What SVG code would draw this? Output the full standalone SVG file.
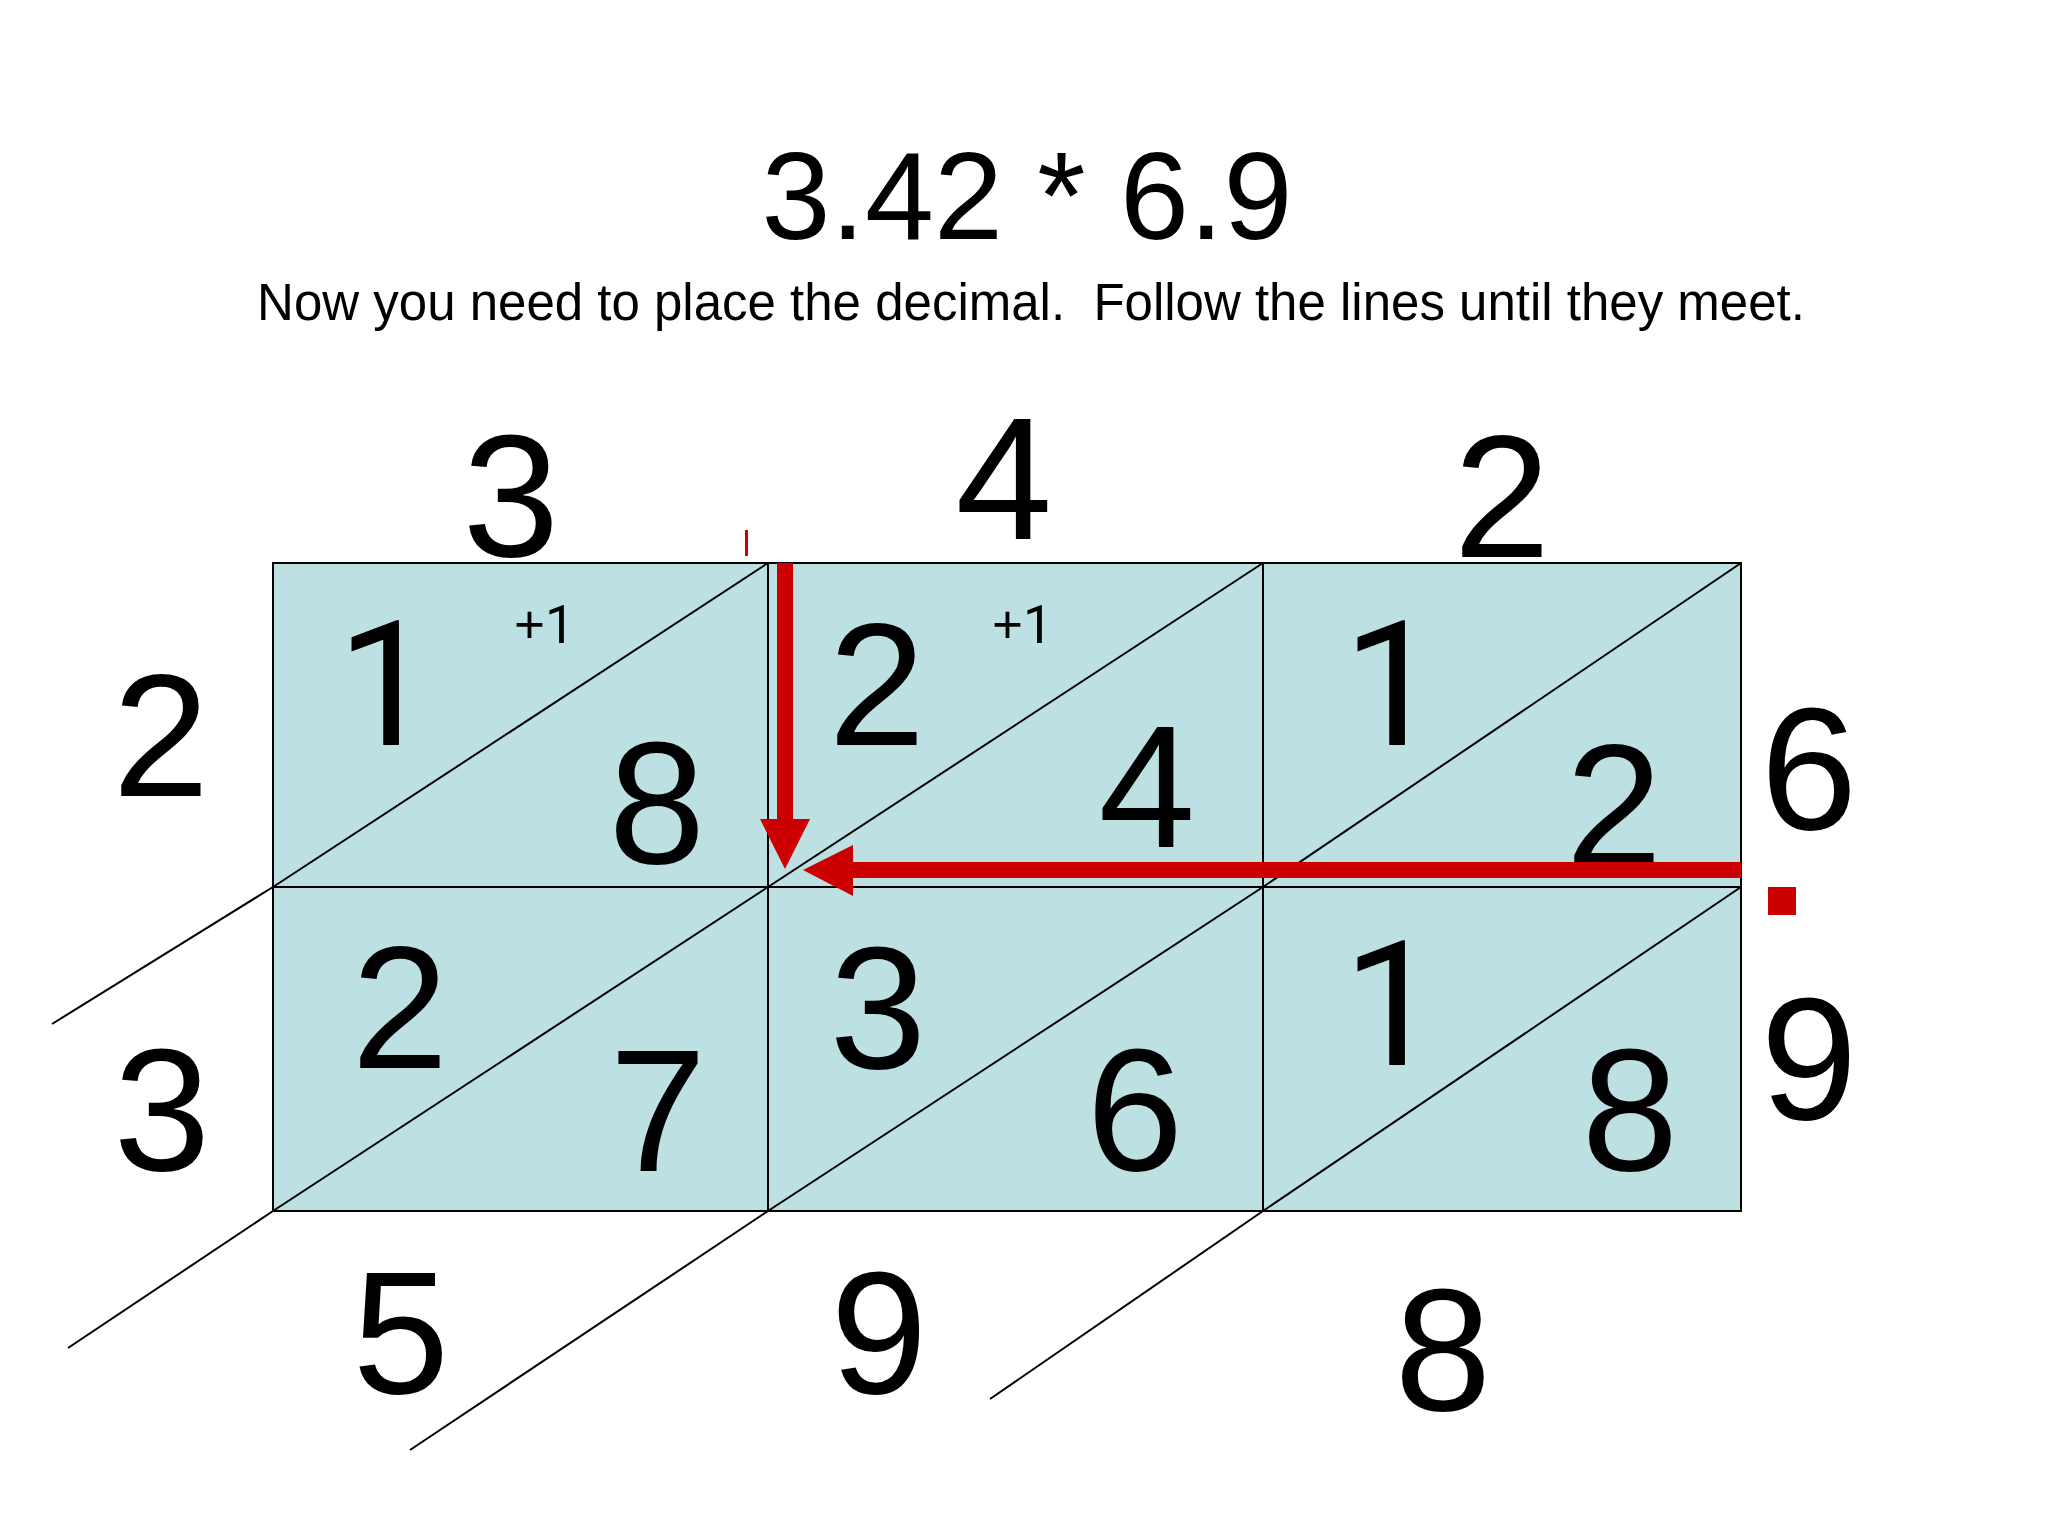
<svg xmlns="http://www.w3.org/2000/svg" width="2048" height="1536" viewBox="0 0 2048 1536">
<style>
.t{font-family:"Liberation Sans",Arial,sans-serif;fill:#000}
.one{font-family:Roboto,"Liberation Sans",Arial,sans-serif}
.big{font-size:174px;text-anchor:middle}
.sm{font-size:53px}
.cell{fill:#BDE0E3;stroke:#000;stroke-width:2}
.ln{stroke:#000;stroke-width:2;fill:none}
.red{fill:#CC0000}
</style>
<rect width="2048" height="1536" fill="#fff"/>
<g id="title">
<text class="t" x="1027" y="239" font-size="124" text-anchor="middle">3.42 * 6.9</text>
<text class="t" x="1031" y="320" font-size="51" text-anchor="middle" xml:space="preserve" style="white-space:pre">Now you need to place the decimal.  Follow the lines until they meet.</text>
</g>
<g id="cell-r1c1">
<rect class="cell" x="273" y="563" width="495" height="324"/>
<line class="ln" x1="273" y1="887" x2="768" y2="563"/>
<text class="t big one" x="386" y="745">1</text>
<text class="t sm" x="514" y="643">+<tspan class="one">1</tspan></text>
<text class="t big" x="657" y="863">8</text>
</g>
<g id="cell-r1c2">
<rect class="cell" x="768" y="563" width="495" height="324"/>
<line class="ln" x1="768" y1="887" x2="1263" y2="563"/>
<text class="t big" x="877" y="745">2</text>
<text class="t sm" x="992" y="643">+<tspan class="one">1</tspan></text>
<text class="t big" x="1147" y="847">4</text>
</g>
<g id="cell-r1c3">
<rect class="cell" x="1263" y="563" width="478" height="324"/>
<line class="ln" x1="1263" y1="887" x2="1741" y2="563"/>
<text class="t big one" x="1392" y="745">1</text>
<text class="t big" x="1614" y="866">2</text>
</g>
<g id="cell-r2c1">
<rect class="cell" x="273" y="887" width="495" height="324"/>
<line class="ln" x1="273" y1="1211" x2="768" y2="887"/>
<text class="t big" x="400" y="1068">2</text>
<text class="t big" x="658" y="1171">7</text>
</g>
<g id="cell-r2c2">
<rect class="cell" x="768" y="887" width="495" height="324"/>
<line class="ln" x1="768" y1="1211" x2="1263" y2="887"/>
<text class="t big" x="878" y="1068">3</text>
<text class="t big" x="1135" y="1170">6</text>
</g>
<g id="cell-r2c3">
<rect class="cell" x="1263" y="887" width="478" height="324"/>
<line class="ln" x1="1263" y1="1211" x2="1741" y2="887"/>
<text class="t big one" x="1392" y="1065">1</text>
<text class="t big" x="1630" y="1170">8</text>
</g>
<g id="top-digits">
<text class="t big" x="511" y="556">3</text>
<text class="t big" x="1004" y="539">4</text>
<text class="t big" x="1502" y="557">2</text>
</g>
<g id="left-digits">
<text class="t big" x="161" y="796">2</text>
<text class="t big" x="162" y="1170">3</text>
</g>
<g id="right-digits">
<text class="t big" x="1809" y="829">6</text>
<text class="t big" x="1809" y="1119">9</text>
<rect class="red" x="1768" y="887" width="28" height="28"/>
</g>
<g id="bottom-digits">
<text class="t big" x="401" y="1393">5</text>
<text class="t big" x="879" y="1393">9</text>
<text class="t big" x="1443" y="1410">8</text>
</g>
<g id="connectors">
<line class="ln" x1="273" y1="887" x2="52" y2="1024"/>
<line class="ln" x1="273" y1="1211" x2="68" y2="1348"/>
<line class="ln" x1="768" y1="1211" x2="410" y2="1450"/>
<line class="ln" x1="1263" y1="1211" x2="990" y2="1399"/>
<line x1="746.5" y1="530" x2="746.5" y2="556" stroke="#CC0000" stroke-width="3"/>
<polygon class="red" points="777,563 793,563 793,819 810,819 785,869 760,819 777,819"/>
<polygon class="red" points="1741,862 1741,878 853,878 853,896 803,870 853,845 853,862"/>
</g>
</svg>
